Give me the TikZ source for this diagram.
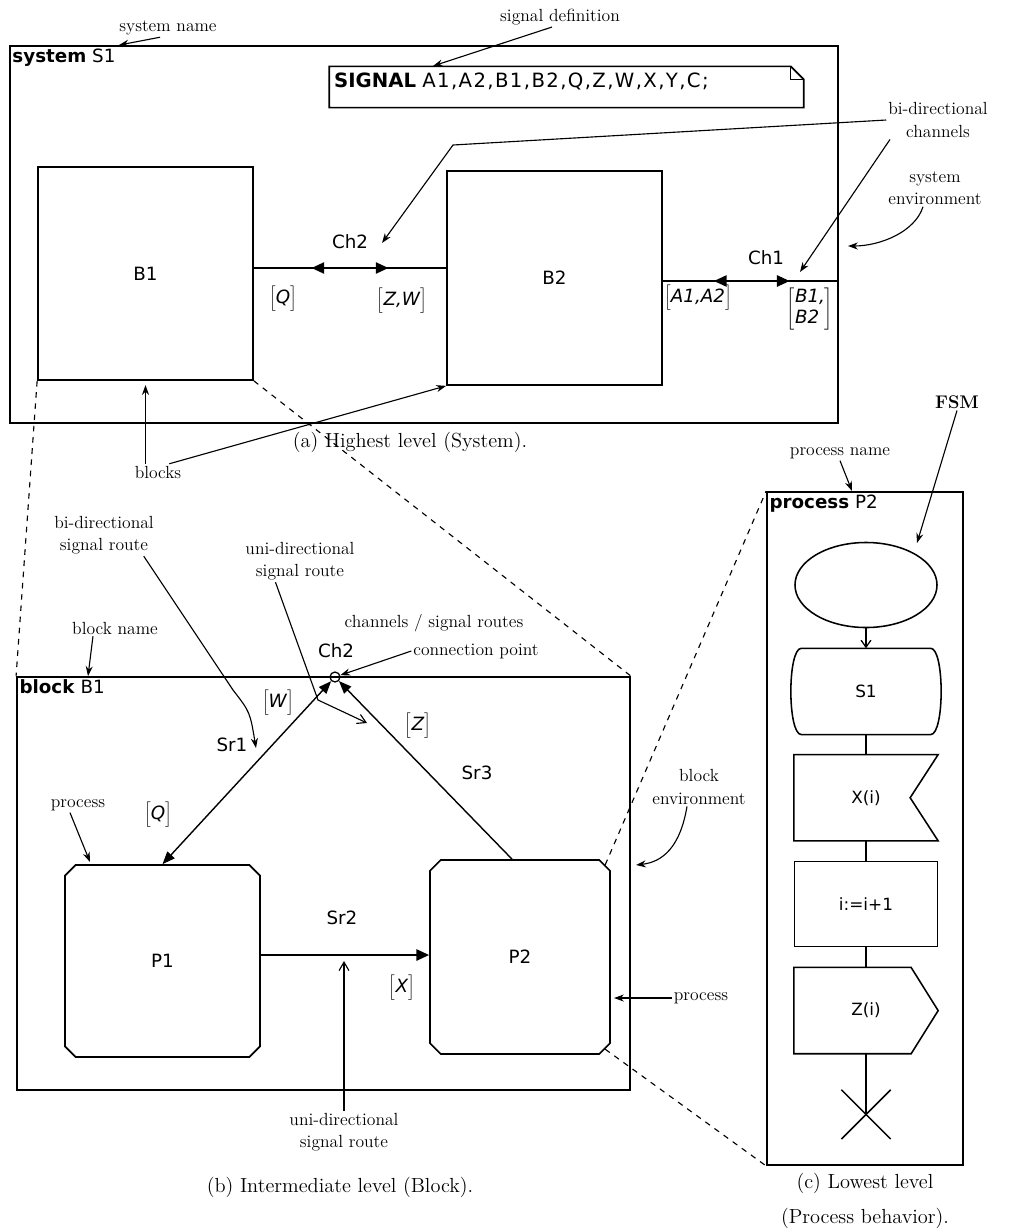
\documentclass[tikz,border=0pt]{standalone}
\usepackage{fontspec}
\newfontfamily\sdlfont{DejaVu Sans}
\newfontfamily\sdlwide[LetterSpace=7]{DejaVu Sans}
\usetikzlibrary{arrows.meta,positioning,shapes.geometric,shapes.misc,decorations.markings}

\newcommand\sigset[1]{$\Bigl[$\textit{#1}$\Bigr]$}

\begin{document}
\begin{tikzpicture}[
  x=0.025cm, y=-0.025cm,
  line width=0.9pt,
  node distance=0.5cm,
  frame/.style={rectangle, draw, line width=1.2pt, inner sep=0pt},
  blk/.style={rectangle, draw, line width=1.2pt, inner sep=0pt, font=\sdlfont\fontsize{13}{15}\selectfont},
  proc/.style={chamfered rectangle, chamfered rectangle xsep=0.3cm, draw, line width=1.2pt, inner sep=0pt, font=\sdlfont\fontsize{13}{15}\selectfont},
  lbl/.style={font=\sdlfont\fontsize{13}{15}\selectfont, inner sep=2pt},
  note/.style={font=\fontsize{12.5}{16}\selectfont, align=center, inner sep=1pt},
  capt/.style={font=\fontsize{14.5}{25}\selectfont, align=center},
  fsm/.style={inner sep=0pt, minimum width=3.575cm, minimum height=2.125cm, font=\sdlfont\fontsize{12}{14}\selectfont},
  pointer/.style={-{Stealth[length=7pt,width=5pt]}, line width=0.8pt},
  openptr/.style={-{Straight Barb[length=6pt,width=7pt]}, line width=0.8pt},
  link/.style={dash pattern=on 4pt off 4pt, line width=0.8pt},
  chan/.style n args={2}{line width=1.2pt, postaction={decorate}, decoration={markings,
      mark=at position #1 with {\arrowreversed{Triangle[length=9pt,width=8pt]}},
      mark=at position #2 with {\arrow{Triangle[length=9pt,width=8pt]}}}},
  route/.style={line width=1pt, {Triangle[length=9pt,width=7pt]}-{Triangle[length=9pt,width=7pt]}},
]
\useasboundingbox (0,0) rectangle (1013,1232);

% (a) system level
\node[frame, minimum width=20.7cm, minimum height=9.425cm] (sys) at (424,234.5) {};
\node[lbl, anchor=north west] (systag) at (sys.north west) {\textbf{system} S1};
\node[note] (sysname) at (168,28) {system name};
\draw[pointer] ([xshift=-0.2cm]sysname.south) -- (systag.north east);

\node[inner sep=0pt, minimum width=11.825cm, minimum height=1cm] (sig) at (566.5,87) {};
\draw[line width=1.2pt] (sig.south west) |- ([xshift=-0.325cm]sig.north east)
  -- ([yshift=-0.325cm]sig.north east) |- cycle;
\draw[line width=0.8pt] ([xshift=-0.325cm]sig.north east) |- ([yshift=-0.325cm]sig.north east);
\node[lbl, font=\sdlfont\fontsize{14}{16}\selectfont, anchor=west] (sigtxt) at ([xshift=1pt,yshift=0.15cm]sig.west) {\textbf{SIGNAL} {\sdlwide A1,A2,B1,B2,Q,Z,W,X,Y,C;}};
\node[note] (sigdef) at (560,17) {signal definition};
\coordinate (sigtip) at (433,66);
\draw[pointer] ([xshift=-0.2cm]sigdef.south) -- (sigtip);

\node[blk, minimum width=5.375cm, minimum height=5.325cm] (b1) at (145.5,273.5) {B1};
\node[blk, minimum width=5.375cm, minimum height=5.35cm] (b2) at (554.5,278) {B2};

\draw[chan={0.30}{0.70}] (b1.east |- 0,268) -- (b2.west |- 0,268);
\draw[chan={0.29}{0.72}] (b2.east |- 0,281) -- (sys.east |- 0,281);
\node[lbl] (ch2) at (350,242) {Ch2};
\node[lbl] (ch1) at (766,258) {Ch1};
\node[lbl] (q1) at (283,299) {\sigset{Q}};
\node[lbl] (zw) at (402,301) {\sigset{Z,W}};
\node[lbl] (a1a2) at (698,298) {\sigset{A1,A2}};
\node[lbl] (b1b2) at (810,309) {$\left[\begin{array}{@{}l@{}}\mbox{\itshape B1,}\\ \mbox{\itshape B2}\end{array}\right]$};

\node[note] (bich) at (938,120) {bi-directional\\channels};
\coordinate (ch2tip) at (382,243);
\coordinate (ch1tip) at (800,272);
\draw[pointer] (bich.west) -- (453,145) -- (ch2tip);
\draw[pointer] ([xshift=-1.2cm]bich.south) -- (ch1tip);

\node[note] (senv) at (935,188) {system\\environment};
\coordinate (senvtip) at (848,246);
\draw[pointer] ([xshift=-0.3cm]senv.south) .. controls (915,232) and (880,246) .. (senvtip);

\node[note] (blocks) at (158,472) {blocks};
\draw[pointer, shorten >=3pt] (blocks.north -| b1.south) -- (b1.south);
\draw[pointer] ([xshift=-0.35cm]blocks.north east) -- (b2.south west);
\node[capt] (capa) at (410,442) {(a) Highest level (System).};

% (b) block level
\node[frame, minimum width=15.325cm, minimum height=10.325cm] (blk) at (323.5,883.5) {};
\node[lbl, anchor=north west] (blktag) at (blk.north west) {\textbf{block} B1};
\draw[link] (b1.south west) -- (blk.north west);
\draw[link] (b1.south east) -- (blk.north east);

\node[proc, minimum width=4.875cm, minimum height=4.8cm] (p1) at (162.5,961) {P1};
\node[proc, minimum width=4.5cm, minimum height=4.85cm] (p2) at (520,957) {P2};
\node[circle, draw, line width=0.9pt, minimum size=0.25cm, inner sep=0pt] (cp) at (335,677) {};

\draw[route] (p1.north) -- (cp);
\draw[line width=1pt, -{Triangle[length=9pt,width=7pt]}] ([xshift=-0.2cm]p2.north) -- (cp);
\draw[line width=1.2pt, -{Triangle[length=9pt,width=8pt]}] (p1.east |- 0,955) -- (p2.west |- 0,955);

\node[lbl] (sr1) at (232,745) {Sr1};
\node[lbl] (sr2) at (342,918) {Sr2};
\node[lbl] (sr3) at (477,773) {Sr3};
\node[lbl] (w1) at (278,703) {\sigset{W}};
\node[lbl] (z1) at (418,726) {\sigset{Z}};
\node[lbl] (q2) at (158,815) {\sigset{Q}};
\node[lbl] (x1) at (402,988) {\sigset{X}};
\node[lbl] (ch2b) at (336,651) {Ch2};

\node[note] (bidir) at (104,535) {bi-directional\\signal route};
\coordinate (sr1tip) at (256,748);
\draw[pointer] ([xshift=-0.3cm]bidir.south east) -- (233,690) .. controls (250,712) .. (sr1tip);
\node[note] (unidir) at (300,561) {uni-directional\\signal route};
\coordinate (sr3tip) at (367,723);
\draw[openptr] ([xshift=0.8cm]unidir.south west) -- (318,700) -- (sr3tip);
\node[note] (bname) at (115,628) {block name};
\coordinate (bnmtip) at (88,676);
\draw[pointer] ([xshift=-0.55cm]bname.south) -- (bnmtip);
\node[note] (cpnote) at (434,623) {channels / signal routes};
\node[note] (cpnote2) at (476,651) {connection point};
\draw[pointer] (cpnote2.west) -- (cp);
\node[note] (pnote) at (78,805) {process};
\coordinate (p1tip) at (90,862);
\draw[pointer] ([xshift=-0.2cm]pnote.south) -- (p1tip);
\node[note] (benv) at (699,787) {block\\environment};
\coordinate (benvtip) at (636,865);
\draw[pointer] ([xshift=-0.3cm]benv.south) .. controls (680,848) and (662,862) .. (benvtip);
\node[note] (pnote2) at (701,998) {process};
\coordinate (p2tip) at (614,998);
\draw[pointer] (pnote2.west) -- (p2tip);
\node[note] (unidir2) at (344,1132) {uni-directional\\signal route};
\coordinate (sr2tip) at (344,961);
\draw[openptr] (unidir2.north) -- (sr2tip);
\node[capt] (capb) at (340,1187) {(b) Intermediate level (Block).};

% (c) process level
\node[frame, minimum width=4.9cm, minimum height=16.825cm] (pbox) at (865,828.5) {};
\node[lbl, anchor=north west] (ptag) at (pbox.north west) {\textbf{process} P2};
\draw[link] (p2.north east) -- (pbox.north west);
\draw[link] (p2.south east) -- (pbox.south west);
\node[note] (pname) at (840,453) {process name};
\coordinate (pnametip) at (852,491);
\draw[pointer] (pname.south) -- (pnametip);
\node[note, font=\bfseries\fontsize{13}{16}\selectfont] (fsmnote) at (957,402) {FSM};
\coordinate (fsmtip) at (917,543);
\draw[pointer] (fsmnote.south) -- (fsmtip);

\node[ellipse, draw, line width=1.1pt, minimum width=3.55cm, minimum height=2.125cm, inner sep=0pt] (start) at (866,585) {};
\node[fsm, minimum width=3.2cm, below=of start] (st) {S1};
\draw[line width=1.1pt] (st.north west) -- (st.north east)
  .. controls ([xshift=0.35cm]st.north east) and ([xshift=0.35cm]st.south east) .. (st.south east)
  -- (st.south west)
  .. controls ([xshift=-0.35cm]st.south west) and ([xshift=-0.35cm]st.north west) .. cycle;
\node[fsm, below=of st] (inp) {X(i)};
\draw[line width=1.1pt] (inp.north west) -- (inp.north east) -- ([xshift=-0.7cm]inp.east)
  -- (inp.south east) -- (inp.south west) -- cycle;
\node[fsm, draw, line width=1.1pt, below=of inp] (tsk) {i:=i+1};
\node[fsm, below=of tsk] (outp) {Z(i)};
\draw[line width=1.1pt] (outp.north west) -- ([xshift=-0.675cm]outp.north east) -- (outp.east)
  -- ([xshift=-0.675cm]outp.south east) -- (outp.south west) -- cycle;
\node[inner sep=0pt, minimum size=1.2cm, below=0.9cm of outp] (stop) {};
\draw[line width=1.1pt] (stop.north west) -- (stop.south east);
\draw[line width=1.1pt] (stop.north east) -- (stop.south west);

\draw[-{Straight Barb[length=5pt,width=7pt]}] (start) -- (st);
\draw (st) -- (inp);
\draw (inp) -- (tsk);
\draw (tsk) -- (outp);
\draw (outp) -- (stop.center);
\node[capt] (capc) at (865,1201) {(c) Lowest level\\(Process behavior).};
\end{tikzpicture}
\end{document}
